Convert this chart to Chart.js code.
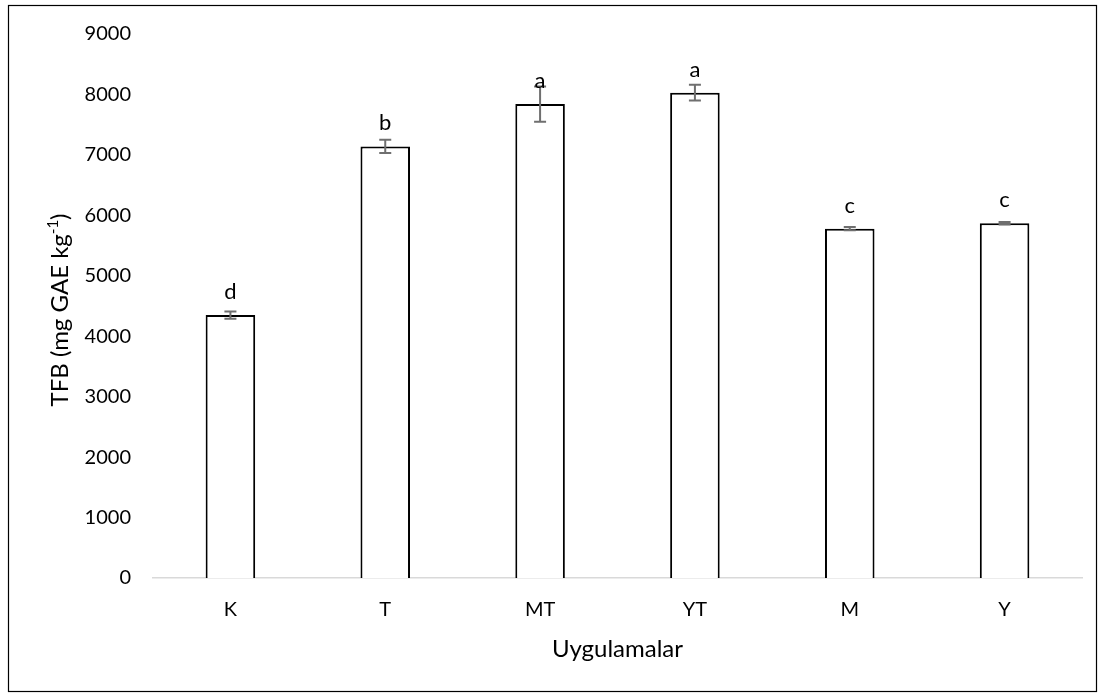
<!DOCTYPE html>
<html>
<head>
<meta charset="utf-8">
<script src="https://cdn.jsdelivr.net/npm/chart.js@4"></script>
<style>
  html, body { margin: 0; padding: 0; background: #fff; }
  #wrap { width: 1103px; height: 700px; position: relative; }
</style>
</head>
<body>
<div id="wrap"><canvas id="tfbChart" width="1103" height="700"></canvas></div>
<script>
const categories = ['K', 'T', 'MT', 'YT', 'M', 'Y'];
const tfbValues = [4350, 7140, 7840, 8030, 5780, 5870];
const tfbErrors = [60, 110, 290, 130, 25, 20];
const letters = ['d', 'b', 'a', 'a', 'c', 'c'];
const yTicks = [0, 1000, 2000, 3000, 4000, 5000, 6000, 7000, 8000, 9000];

const FONT = 'Lato, "Open Sans", sans-serif';

// error bars, significance letters, y title with superscript, outer frame
const extras = {
    id: 'extras',
    afterDatasetsDraw(chart) {
        const ctx = chart.ctx;
        const y = chart.scales.y;
        const meta = chart.getDatasetMeta(0);
        ctx.save();
        ctx.strokeStyle = '#6f6f6f';
        ctx.lineWidth = 2;
        meta.data.forEach((bar, i) => {
            const top = y.getPixelForValue(tfbValues[i] + tfbErrors[i]);
            const bot = y.getPixelForValue(tfbValues[i] - tfbErrors[i]);
            ctx.beginPath();
            ctx.moveTo(bar.x, top); ctx.lineTo(bar.x, bot);
            ctx.moveTo(bar.x - 6, top); ctx.lineTo(bar.x + 6, top);
            ctx.moveTo(bar.x - 6, bot); ctx.lineTo(bar.x + 6, bot);
            ctx.stroke();
        });
        ctx.fillStyle = '#000';
        ctx.font = '22px ' + FONT;
        ctx.textAlign = 'center';
        ctx.textBaseline = 'alphabetic';
        meta.data.forEach((bar, i) => {
            ctx.fillText(letters[i], bar.x, y.getPixelForValue(tfbValues[i]) - 16);
        });

        // y axis title
        ctx.translate(68, 310);
        ctx.rotate(-Math.PI / 2);
        const main = 'TFB (mg GAE kg';
        ctx.font = '24px ' + FONT;
        const w1 = ctx.measureText(main).width;
        const w3 = ctx.measureText(')').width;
        ctx.font = '15px ' + FONT;
        const w2 = ctx.measureText('-1').width;
        const x0 = -(w1 + w2 + w3) / 2;
        ctx.textAlign = 'left';
        ctx.font = '24px ' + FONT;
        ctx.fillText(main, x0, 0);
        ctx.fillText(')', x0 + w1 + w2, 0);
        ctx.font = '15px ' + FONT;
        ctx.fillText('-1', x0 + w1, -10);
        ctx.restore();

        ctx.save();
        ctx.strokeStyle = '#000';
        ctx.lineWidth = 1.2;
        ctx.strokeRect(8.5, 5.5, 1088, 686);
        ctx.restore();
    }
};

new Chart(document.getElementById('tfbChart'), {
    type: 'bar',
    data: {
        labels: categories,
        datasets: [{
            label: 'TFB',
            data: tfbValues,
            backgroundColor: '#ffffff',
            borderColor: '#000000',
            borderWidth: 2,
            categoryPercentage: 1,
            barPercentage: 0.32
        }]
    },
    options: {
        responsive: false,
        animation: false,
        devicePixelRatio: 1,
        layout: { padding: { left: 8, right: 21, top: 32, bottom: 32 } },
        plugins: {
            legend: { display: false },
            tooltip: { enabled: false }
        },
        scales: {
            y: {
                min: 0,
                max: 9000,
                afterFit: s => { s.width = 145; },
                afterBuildTicks: s => { s.ticks = yTicks.map(v => ({ value: v })); },
                ticks: {
                    color: '#000',
                    font: { family: FONT, size: 20 },
                    padding: 22,
                    callback: v => String(v)
                },
                grid: { display: false, drawTicks: false },
                border: { display: false }
            },
            x: {
                afterFit: s => { s.height = 90; },
                ticks: { color: '#000', font: { family: FONT, size: 20 }, padding: 20 },
                grid: { display: false, drawTicks: false },
                border: { display: true, color: '#d9d9d9', width: 1.5 },
                title: {
                    display: true,
                    text: 'Uygulamalar',
                    color: '#000',
                    font: { family: FONT, size: 24 },
                    padding: { top: 10, bottom: 4 }
                }
            }
        }
    },
    plugins: [extras]
});
</script>
</body>
</html>
